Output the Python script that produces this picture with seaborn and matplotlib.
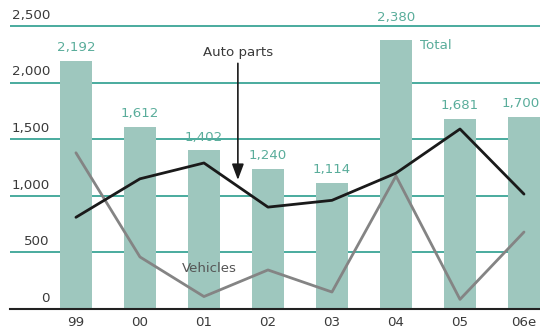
import numpy as np
import pandas as pd
import matplotlib
matplotlib.use("Agg")
import matplotlib.pyplot as plt
import seaborn as sns

# Years (06e = estimate)
years = ["99", "00", "01", "02", "03", "04", "05", "06e"]
total = [2192, 1612, 1402, 1240, 1114, 2380, 1681, 1700]
auto_parts = [810, 1150, 1290, 900, 960, 1200, 1590, 1015]
vehicles = [1380, 460, 110, 345, 150, 1175, 85, 680]
y_ticks = [0, 500, 1000, 1500, 2000, 2500]

BAR = "#9ec7be"
TEAL_TEXT = "#5aad9b"
GRID = "#3aa596"
TEXT = "#3a3a3a"
FS = 9.6

sns.set_theme(style="white")
plt.rcParams["font.family"] = ["DejaVu Sans"]

fig = plt.figure(figsize=(5.40, 3.32), dpi=100)
ymax = 2600
px_per_unit = 283 / 2500
ax = fig.add_axes([10 / 540, 23 / 332, 1 - 10 / 540, ymax * px_per_unit / 332])

df = pd.DataFrame({"year": years, "total": total})
sns.barplot(data=df, x="year", y="total", color=BAR, width=0.5,
            saturation=1, linewidth=0, edgecolor="none", ax=ax)
for p in ax.patches:
    p.set_zorder(2)

x = np.arange(len(years))
sns.lineplot(x=x, y=auto_parts, color="#1a1a1a", linewidth=2.0, ax=ax, zorder=4)
sns.lineplot(x=x, y=vehicles, color="#848484", linewidth=2.0, ax=ax, zorder=3)

ax.set_xlim(-1.03, 7.25)
ax.set_ylim(0, ymax)

# Horizontal gridlines behind the bars, labels sitting above them
for v in y_ticks[1:]:
    ax.axhline(v, color=GRID, linewidth=1.3, zorder=0.5)
label_x = (50 - 76) / 64
for v in y_ticks:
    ax.annotate(f"{v:,}", xy=(label_x, v), xytext=(0, 3), textcoords="offset points",
                ha="right", va="bottom", fontsize=FS, color=TEXT)

ax.set_yticks([])
ax.set_ylabel("")
ax.set_xlabel("")
ax.tick_params(axis="x", length=0, pad=5, labelsize=FS, labelcolor=TEXT)
for side in ["top", "right", "left"]:
    ax.spines[side].set_visible(False)
ax.spines["bottom"].set_color("#222222")
ax.spines["bottom"].set_linewidth(1.5)
ax.spines["bottom"].set_zorder(5)

# Value labels above the bars; the tallest is lifted clear of the top gridline,
# the last one is right-aligned so it stays inside the figure
n = len(total)
for i, v in enumerate(total):
    off = 16 if v > 2300 else 9.5
    if i == n - 1:
        xy, ha = (i + 0.25, v), "right"
    else:
        xy, ha = (i, v), "center"
    ax.annotate(f"{v:,}", xy=xy, xytext=(0, off), textcoords="offset points",
                ha=ha, va="center", fontsize=FS, color=TEAL_TEXT,
                annotation_clip=False)

ax.text(5.38, 2325, "Total", ha="left", va="center", fontsize=FS, color=TEAL_TEXT)
ax.text(2.08, 360, "Vehicles", ha="center", va="center", fontsize=FS, color="#555555", zorder=6)

# Auto parts callout with arrow
ax.annotate("", xy=(2.53, 1140), xytext=(2.53, 2170),
            arrowprops=dict(arrowstyle="-|>,head_length=0.8,head_width=0.3",
                            color="#1a1a1a", lw=1.2, shrinkA=0, shrinkB=0), zorder=6)
ax.text(2.53, 2270, "Auto parts", ha="center", va="center", fontsize=FS, color=TEXT)

fig.savefig("out.png", dpi=100)
